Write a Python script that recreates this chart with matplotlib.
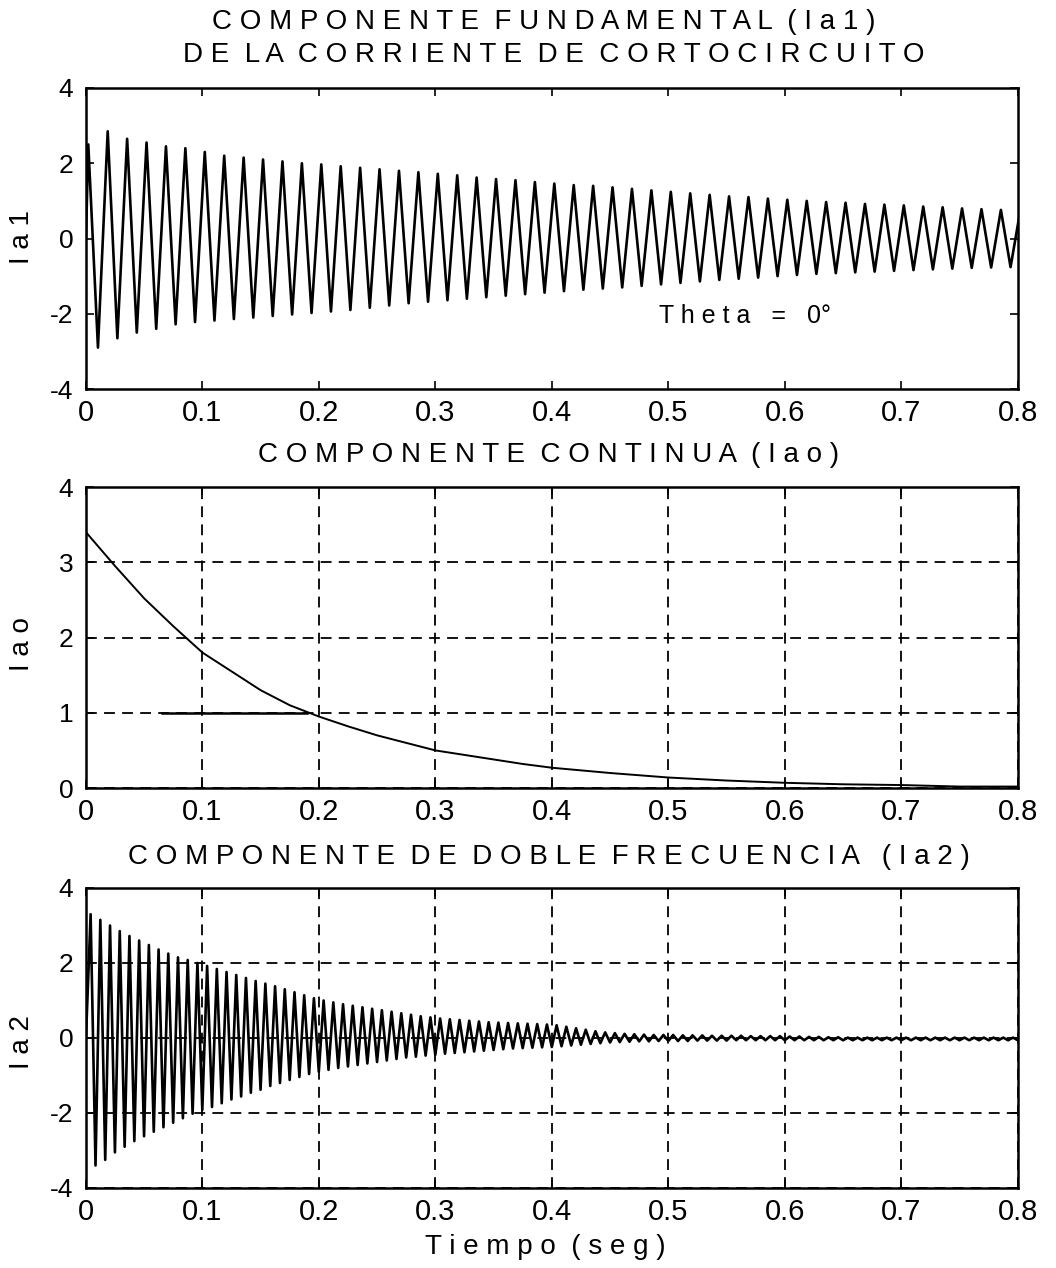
import numpy as np
import matplotlib
matplotlib.use('Agg')
import matplotlib.pyplot as plt

plt.rcParams['font.family'] = ['Liberation Sans', 'DejaVu Sans']
plt.rcParams['axes.unicode_minus'] = False

# ---- data ----
# fundamental (60 Hz): one peak and one trough per cycle
f1 = 60.0
ia1_peaks = [2.5, 2.85, 2.65, 2.55, 2.45, 2.4, 2.3, 2.2, 2.15, 2.1, 2.05, 2.0,
             1.97, 1.92, 1.88, 1.84, 1.8, 1.76, 1.72, 1.68, 1.62, 1.58, 1.55, 1.5,
             1.46, 1.42, 1.4, 1.36, 1.32, 1.28, 1.24, 1.2, 1.16, 1.12, 1.1, 1.06,
             1.03, 1.0, 0.97, 0.95, 0.92, 0.9, 0.88, 0.85, 0.83, 0.8, 0.78, 0.76, 0.75]
ia1_troughs = [-2.9, -2.65, -2.5, -2.4, -2.28, -2.22, -2.18, -2.14, -2.1, -2.06, -2.02, -1.98,
               -1.94, -1.9, -1.84, -1.78, -1.72, -1.68, -1.64, -1.6, -1.56, -1.52, -1.48, -1.44,
               -1.4, -1.36, -1.33, -1.3, -1.26, -1.22, -1.18, -1.14, -1.1, -1.07, -1.04, -1.0,
               -0.97, -0.94, -0.92, -0.9, -0.88, -0.86, -0.84, -0.82, -0.8, -0.78, -0.77, -0.76]

# dc component
t_dc = [0.0, 0.025, 0.05, 0.075, 0.1, 0.125, 0.15, 0.175, 0.2, 0.225, 0.25, 0.275, 0.3,
        0.325, 0.35, 0.375, 0.4, 0.45, 0.5, 0.55, 0.6, 0.65, 0.7, 0.75, 0.8]
iao = [3.4, 2.95, 2.52, 2.15, 1.8, 1.55, 1.3, 1.1, 0.95, 0.82, 0.7, 0.6, 0.5,
       0.44, 0.38, 0.32, 0.27, 0.2, 0.14, 0.1, 0.07, 0.05, 0.04, 0.02, 0.02]
t_flat = [0.065, 0.19]
flat = [1.0, 1.0]

# double frequency (120 Hz): one peak and one trough per cycle
f2 = 120.0
ia2_peaks = [3.3, 3.15, 3.0, 2.85, 2.72, 2.6, 2.48, 2.36, 2.25, 2.15, 2.08, 2.0,
             1.92, 1.84, 1.76, 1.68, 1.6, 1.52, 1.45, 1.38, 1.3, 1.22, 1.14, 1.06,
             1.0, 0.95, 0.9, 0.86, 0.82, 0.78, 0.74, 0.7, 0.66, 0.62, 0.58, 0.55,
             0.52, 0.5, 0.48, 0.46, 0.44, 0.42, 0.41, 0.4, 0.39, 0.38, 0.37, 0.36,
             0.34, 0.3, 0.26, 0.22, 0.18, 0.15, 0.13, 0.11, 0.1, 0.09, 0.08, 0.08,
             0.08, 0.07, 0.07, 0.07, 0.06, 0.06, 0.06, 0.06, 0.05, 0.05, 0.05, 0.05,
             0.04, 0.04, 0.03, 0.03, 0.02, 0.02, 0.01, 0.01, 0.01, 0.01, 0.01, 0.01,
             0.01, 0.01, 0.01, 0.01, 0.01, 0.01, 0.01, 0.01, 0.01, 0.01, 0.01, 0.01]
ia2_troughs = [-3.4, -3.25, -3.05, -2.9, -2.75, -2.62, -2.5, -2.38, -2.26, -2.14, -2.02, -1.92,
               -1.84, -1.74, -1.64, -1.56, -1.46, -1.38, -1.28, -1.2, -1.12, -1.04, -0.96, -0.9,
               -0.85, -0.8, -0.76, -0.72, -0.68, -0.64, -0.6, -0.56, -0.52, -0.5, -0.47, -0.45,
               -0.42, -0.4, -0.38, -0.36, -0.34, -0.32, -0.3, -0.28, -0.27, -0.26, -0.25, -0.24,
               -0.22, -0.2, -0.18, -0.16, -0.14, -0.12, -0.11, -0.1, -0.09, -0.09, -0.08, -0.08,
               -0.08, -0.08, -0.07, -0.07, -0.07, -0.07, -0.06, -0.06, -0.06, -0.06, -0.06, -0.06,
               -0.06, -0.06, -0.06, -0.06, -0.06, -0.06, -0.06, -0.06, -0.06, -0.06, -0.06, -0.06,
               -0.06, -0.06, -0.06, -0.06, -0.06, -0.06, -0.06, -0.06, -0.06, -0.06, -0.06, -0.06]

xticks = [0, 0.1, 0.2, 0.3, 0.4, 0.5, 0.6, 0.7, 0.8]
xticklabels = ['0', '0.1', '0.2', '0.3', '0.4', '0.5', '0.6', '0.7', '0.8']


def interleave(peaks, troughs, f, t0p, t0t):
    tp = t0p + np.arange(len(peaks)) / f
    tt = t0t + np.arange(len(troughs)) / f
    t = np.concatenate([tp, tt])
    v = np.concatenate([peaks, troughs])
    order = np.argsort(t)
    return t[order], v[order]


def style(ax, yticks, grid):
    ax.set_xlim(0, 0.8)
    ax.set_ylim(yticks[0], yticks[-1])
    ax.set_xticks(xticks)
    ax.set_xticklabels(xticklabels)
    ax.set_yticks(yticks)
    ax.tick_params(direction='in', length=6, width=1.2, top=True, right=True, colors='black')
    ax.tick_params(axis='x', labelsize=21, pad=7)
    ax.tick_params(axis='y', labelsize=19, pad=9)
    for s in ax.spines.values():
        s.set_linewidth(1.8)
    if grid:
        ax.grid(True, color='black', linestyle=(0, (6, 4)), linewidth=1.3)


fig = plt.figure(figsize=(10.56, 12.68), dpi=100)
ax1 = fig.add_axes([0.0814, 0.6932, 0.8826, 0.2374])
ax2 = fig.add_axes([0.0814, 0.3785, 0.8826, 0.2374])
ax3 = fig.add_axes([0.0814, 0.0631, 0.8826, 0.2366])

t1, v1 = interleave(ia1_peaks, ia1_troughs, f1, 0.002, 0.0103)
ax1.plot(np.concatenate([[0.0], t1]), np.concatenate([[0.0], v1]), color='black', lw=1.9)
style(ax1, [-4, -2, 0, 2, 4], grid=False)
ax1.text(0.566, -2.06, 'T h e t a   =   0°', fontsize=18, ha='center', va='center')

ax2.plot(t_dc, iao, color='black', lw=1.4)
ax2.plot(t_flat, flat, color='black', lw=1.8)
style(ax2, [0, 1, 2, 3, 4], grid=True)

t3, v3 = interleave(ia2_peaks, ia2_troughs, f2, 0.004, 0.0082)
ax3.plot(np.concatenate([[0.0], t3]), np.concatenate([[0.0], v3]), color='black', lw=1.9)
style(ax3, [-4, -2, 0, 2, 4], grid=True)

tfont = dict(fontsize=20, ha='center', va='center')
fig.text(0.515, 0.9826, 'C O M P O N E N T E  F U N D A M E N T A L  ( I a 1 )', **tfont)
fig.text(0.524, 0.9566, 'D E  L A  C O R R I E N T E  D E  C O R T O C I R C U I T O', **tfont)
fig.text(0.519, 0.6410, 'C O M P O N E N T E  C O N T I N U A  ( I a o )', **tfont)
fig.text(0.520, 0.3241, 'C O M P O N E N T E  D E  D O B L E  F R E C U E N C I A   ( I a 2 )', **tfont)
fig.text(0.516, 0.0166, 'T i e m p o  ( s e g )', **tfont)

lfont = dict(fontsize=20, ha='center', va='center', rotation=90)
fig.text(0.021, 0.813, 'I a 1', **lfont)
fig.text(0.021, 0.492, 'I a o', **lfont)
fig.text(0.021, 0.178, 'I a 2', **lfont)

fig.savefig('out.png', dpi=100, facecolor='white')
